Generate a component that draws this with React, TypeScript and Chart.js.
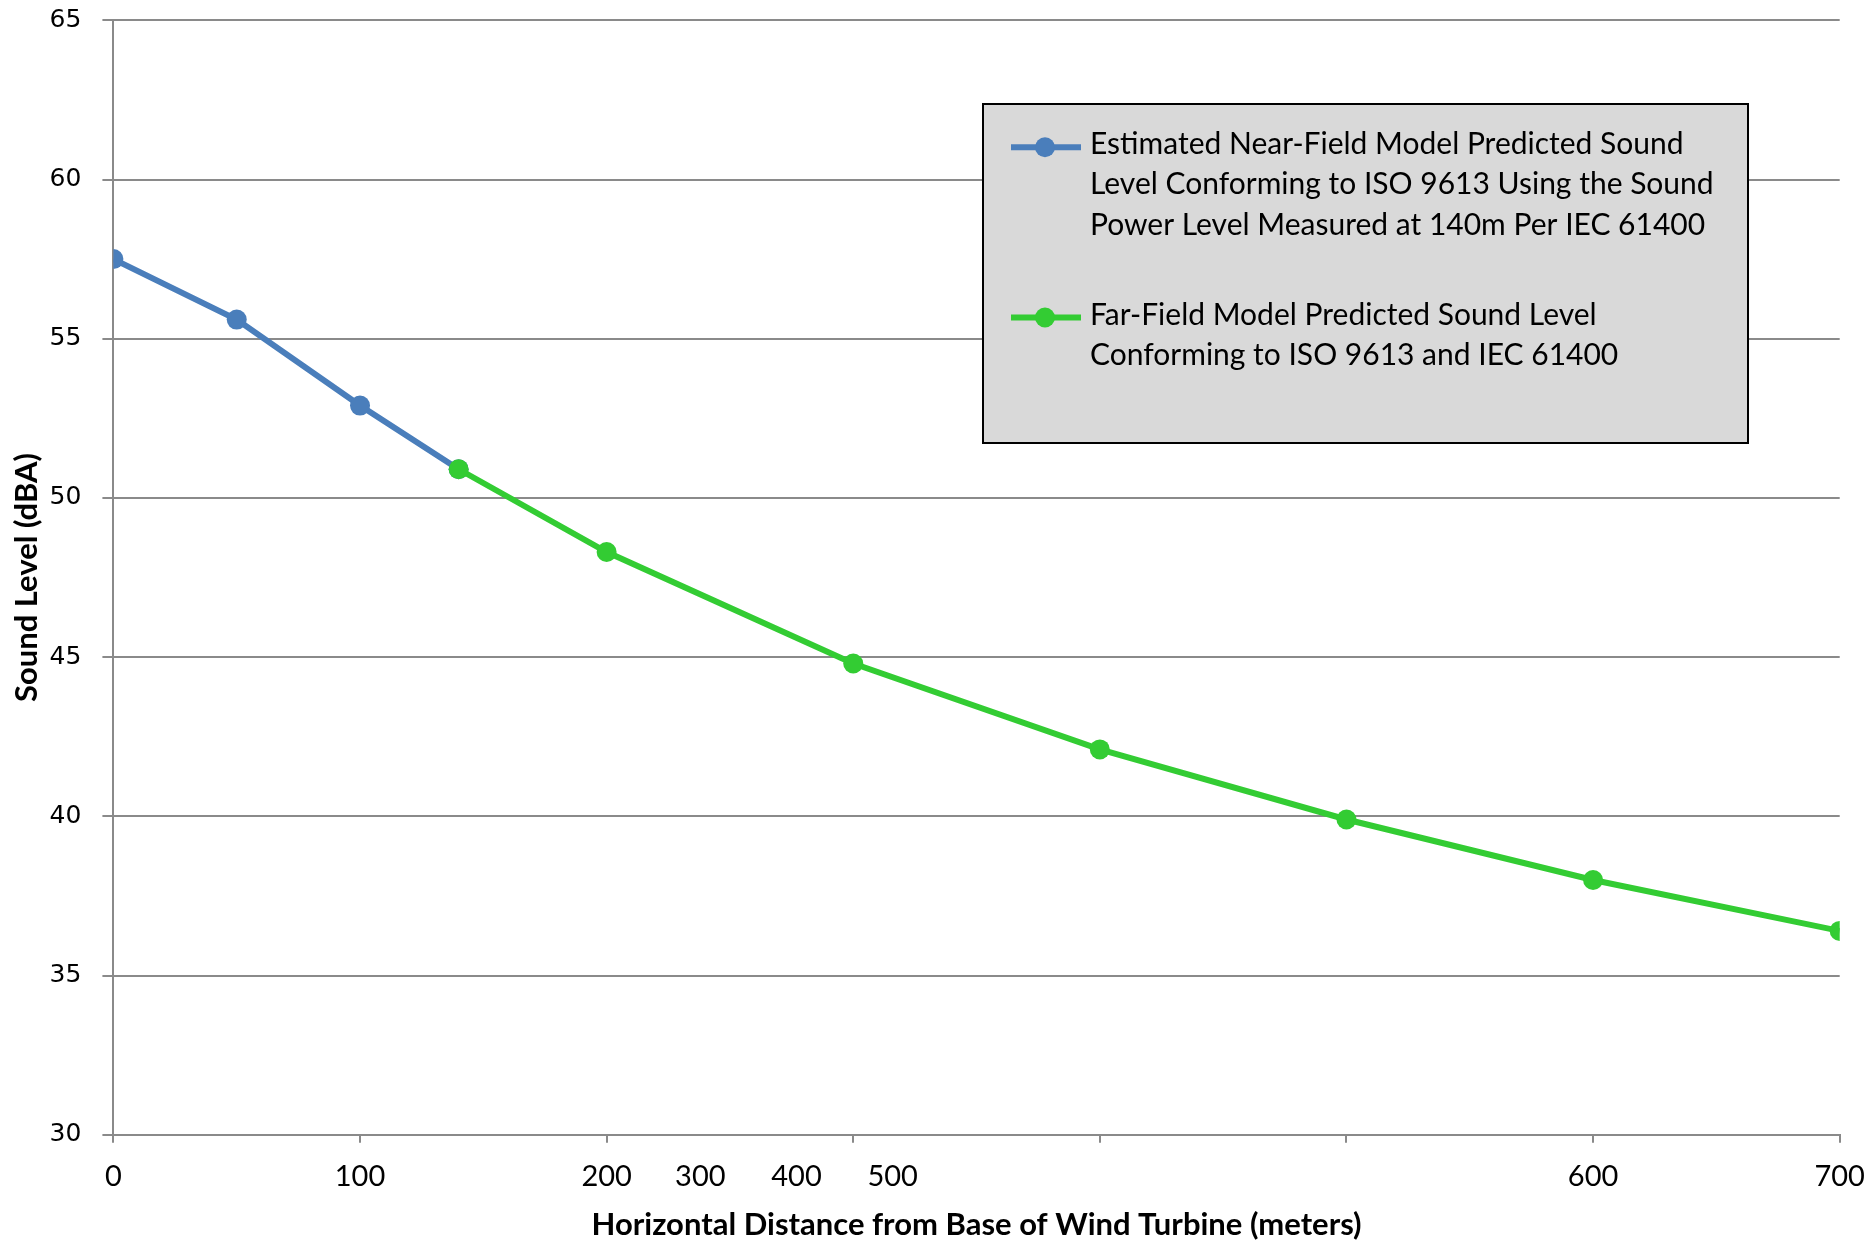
import { useEffect, useRef } from 'react';
import { Chart, registerables } from 'chart.js';

Chart.register(...registerables);

// ---- data ----
const nearDistances = [0, 50, 100, 140];
const nearLevels = [57.5, 55.6, 52.9, 50.9];
const farDistances = [140, 200, 300, 400, 500, 600, 700];
const farLevels = [50.9, 48.3, 44.8, 42.1, 39.9, 38.0, 36.4];

// x-axis tick marks and the (oddly placed) tick labels, as in the original
const xTickMarks = [0, 100, 200, 300, 400, 500, 600, 700];
const xLabelValues = [0, 100, 200, 238, 277, 316, 600, 700];
const xLabelTexts = ['0', '100', '200', '300', '400', '500', '600', '700'];

const yMin = 30;
const yMax = 65;
const yStep = 5;

const nearLegendLines = [
  'Estimated Near-Field Model Predicted Sound',
  'Level Conforming to ISO 9613 Using the Sound',
  'Power Level Measured at 140m Per IEC 61400',
];
const farLegendLines = [
  'Far-Field Model Predicted Sound Level',
  'Conforming to ISO 9613 and IEC 61400',
];
const xTitle = 'Horizontal Distance from Base of Wind Turbine (meters)';
const yTitle = 'Sound Level (dBA)';

const BLUE = '#4a7ebb';
const GREEN = '#33cc33';
const GRID = '#8a8a8a';
const FONT = 'Lato, "Open Sans", sans-serif';

const legendPlugin = {
  id: 'boxLegend',
  afterDatasetsDraw(chart: any) {
    const { ctx, chartArea } = chart;
    const bx = chartArea.left + 869.6;
    const by = chartArea.top + 83.7;
    const bw = 765;
    const bh = 339;
    ctx.save();
    ctx.fillStyle = '#d9d9d9';
    ctx.fillRect(bx, by, bw, bh);
    ctx.lineWidth = 2;
    ctx.strokeStyle = '#000000';
    ctx.strokeRect(bx, by, bw, bh);

    const entries = [
      { lines: nearLegendLines, color: BLUE, top: 39.2 },
      { lines: farLegendLines, color: GREEN, top: 209.5 },
    ];
    ctx.font = `30px ${FONT}`;
    ctx.textAlign = 'left';
    ctx.textBaseline = 'alphabetic';
    for (const e of entries) {
      const my = by + e.top + 4;
      ctx.strokeStyle = e.color;
      ctx.lineWidth = 6;
      ctx.beginPath();
      ctx.moveTo(bx + 28, my);
      ctx.lineTo(bx + 98, my);
      ctx.stroke();
      ctx.fillStyle = e.color;
      ctx.beginPath();
      ctx.arc(bx + 62, my, 10, 0, Math.PI * 2);
      ctx.fill();
      ctx.fillStyle = '#000000';
      e.lines.forEach((t, i) => {
        ctx.fillText(t, bx + 107, by + e.top + i * 40.2 + 11);
      });
    }
    ctx.restore();
  },
};

export default function App() {
  const ref = useRef<HTMLCanvasElement | null>(null);

  useEffect(() => {
    if (!ref.current) return;
    const chart = new Chart(ref.current, {
      type: 'line',
      data: {
        datasets: [
          {
            label: nearLegendLines.join(' '),
            data: nearDistances.map((x, i) => ({ x, y: nearLevels[i] })),
            borderColor: BLUE,
            backgroundColor: BLUE,
            borderWidth: 6,
            pointRadius: 10,
            pointHoverRadius: 10,
            pointBorderWidth: 0,
            tension: 0,
            order: 2,
          },
          {
            label: farLegendLines.join(' '),
            data: farDistances.map((x, i) => ({ x, y: farLevels[i] })),
            borderColor: GREEN,
            backgroundColor: GREEN,
            borderWidth: 6,
            pointRadius: 10,
            pointHoverRadius: 10,
            pointBorderWidth: 0,
            tension: 0,
            order: 1,
          },
        ],
      },
      options: {
        responsive: false,
        animation: false,
        layout: { padding: { left: 0, right: 31.3, top: 20.3, bottom: 0 } },
        plugins: {
          legend: { display: false },
          tooltip: { enabled: false },
        },
        scales: {
          x: {
            type: 'linear',
            min: 0,
            max: 700,
            afterBuildTicks: (scale: any) => {
              const vals = Array.from(new Set([...xTickMarks, ...xLabelValues])).sort((a, b) => a - b);
              scale.ticks = vals.map((v) => ({ value: v }));
            },
            afterFit: (scale: any) => {
              scale.height = 109.3;
              scale.paddingLeft = 0;
              scale.paddingRight = 0;
            },
            ticks: {
              autoSkip: false,
              maxRotation: 0,
              minRotation: 0,
              padding: 17,
              color: '#000000',
              font: { family: FONT, size: 29 },
              callback: (value: any) => {
                const idx = xLabelValues.indexOf(Number(value));
                return idx >= 0 ? xLabelTexts[idx] : '';
              },
            },
            grid: {
              display: true,
              drawOnChartArea: false,
              drawTicks: true,
              tickLength: 8,
              lineWidth: 2,
              color: GRID,
              tickColor: (ctx: any) =>
                ctx.tick && xTickMarks.includes(ctx.tick.value) ? GRID : 'rgba(0,0,0,0)',
            },
            border: { display: true, color: GRID, width: 2 },
            title: {
              display: true,
              text: xTitle,
              color: '#000000',
              font: { family: FONT, size: 31, weight: 'bold' },
              padding: { top: 0, bottom: 0 },
            },
          },
          y: {
            type: 'linear',
            min: yMin,
            max: yMax,
            afterFit: (scale: any) => {
              scale.width = 113.4;
              scale.paddingTop = 0;
              scale.paddingBottom = 0;
            },
            ticks: {
              stepSize: yStep,
              padding: 21,
              color: '#000000',
              font: { family: '"DejaVu Sans", Verdana, sans-serif', size: 25 },
            },
            grid: {
              display: true,
              drawTicks: true,
              tickLength: 11,
              lineWidth: 2,
              color: GRID,
            },
            border: { display: true, color: GRID, width: 2 },
            title: {
              display: true,
              text: yTitle,
              color: '#000000',
              font: { family: FONT, size: 31, weight: 'bold' },
              padding: { top: 8, bottom: 0 },
            },
          },
        },
      },
      plugins: [legendPlugin],
    } as any);
    return () => chart.destroy();
  }, []);

  return (
    <div style={{ position: 'fixed', left: 0, top: 0, width: 1871, height: 1244, background: '#ffffff' }}>
      <canvas ref={ref} width={1871} height={1244} style={{ display: 'block' }} />
    </div>
  );
}
